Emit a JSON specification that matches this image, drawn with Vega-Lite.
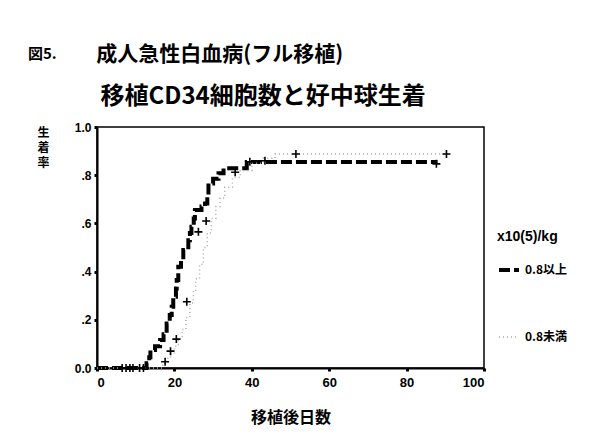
{
  "$schema": "https://vega.github.io/schema/vega-lite/v6.json",
  "width": 387,
  "height": 241,
  "autosize": {"type": "none"},
  "padding": {"left": 97, "top": 127, "right": 107, "bottom": 77},
  "background": "white",
  "title": {
    "text": "図5.",
    "subtitle": "\u200b\u3000\u3000\u3000\u2005成人急性白血病(フル移植)",
    "anchor": "start",
    "frame": "group",
    "dx": -69,
    "offset": 16,
    "font": "Noto Sans CJK JP",
    "fontSize": 15,
    "fontWeight": "bold",
    "color": "black",
    "subtitleFont": "Noto Sans CJK JP",
    "subtitleFontSize": 21,
    "subtitleFontWeight": "bold",
    "subtitleColor": "black",
    "subtitlePadding": -18
  },
  "resolve": {"axis": {"x": "independent"}},
  "datasets": {
    "curves": [
      {"group": "0.8以上", "day": 0, "rate": 0},
      {"group": "0.8以上", "day": 12.8, "rate": 0.02},
      {"group": "0.8以上", "day": 13.5, "rate": 0.045},
      {"group": "0.8以上", "day": 13.8, "rate": 0.075},
      {"group": "0.8以上", "day": 15, "rate": 0.09},
      {"group": "0.8以上", "day": 16.3, "rate": 0.116},
      {"group": "0.8以上", "day": 17.2, "rate": 0.14},
      {"group": "0.8以上", "day": 18, "rate": 0.185},
      {"group": "0.8以上", "day": 18.8, "rate": 0.22},
      {"group": "0.8以上", "day": 19.3, "rate": 0.254},
      {"group": "0.8以上", "day": 19.7, "rate": 0.296},
      {"group": "0.8以上", "day": 20.4, "rate": 0.33},
      {"group": "0.8以上", "day": 20.6, "rate": 0.365},
      {"group": "0.8以上", "day": 21, "rate": 0.42},
      {"group": "0.8以上", "day": 21.7, "rate": 0.45},
      {"group": "0.8以上", "day": 22.3, "rate": 0.49},
      {"group": "0.8以上", "day": 23.6, "rate": 0.53},
      {"group": "0.8以上", "day": 24, "rate": 0.56},
      {"group": "0.8以上", "day": 24.4, "rate": 0.586},
      {"group": "0.8以上", "day": 25, "rate": 0.62},
      {"group": "0.8以上", "day": 25.3, "rate": 0.656},
      {"group": "0.8以上", "day": 27, "rate": 0.67},
      {"group": "0.8以上", "day": 27.9, "rate": 0.683},
      {"group": "0.8以上", "day": 28.5, "rate": 0.72},
      {"group": "0.8以上", "day": 28.8, "rate": 0.766},
      {"group": "0.8以上", "day": 30, "rate": 0.785},
      {"group": "0.8以上", "day": 31.4, "rate": 0.808},
      {"group": "0.8以上", "day": 32.7, "rate": 0.829},
      {"group": "0.8以上", "day": 38.7, "rate": 0.855},
      {"group": "0.8以上", "day": 88, "rate": 0.855},
      {"group": "0.8未満", "day": 0, "rate": 0},
      {"group": "0.8未満", "day": 17, "rate": 0.02},
      {"group": "0.8未満", "day": 18, "rate": 0.04},
      {"group": "0.8未満", "day": 19, "rate": 0.06},
      {"group": "0.8未満", "day": 20, "rate": 0.09},
      {"group": "0.8未満", "day": 21, "rate": 0.12},
      {"group": "0.8未満", "day": 22, "rate": 0.16},
      {"group": "0.8未満", "day": 23, "rate": 0.21},
      {"group": "0.8未満", "day": 24, "rate": 0.27},
      {"group": "0.8未満", "day": 24.9, "rate": 0.32},
      {"group": "0.8未満", "day": 25.5, "rate": 0.37},
      {"group": "0.8未満", "day": 26.5, "rate": 0.43},
      {"group": "0.8未満", "day": 27.5, "rate": 0.5},
      {"group": "0.8未満", "day": 28.5, "rate": 0.56},
      {"group": "0.8未満", "day": 29.5, "rate": 0.62},
      {"group": "0.8未満", "day": 30.7, "rate": 0.67},
      {"group": "0.8未満", "day": 31.8, "rate": 0.705},
      {"group": "0.8未満", "day": 33, "rate": 0.75},
      {"group": "0.8未満", "day": 35, "rate": 0.79},
      {"group": "0.8未満", "day": 37, "rate": 0.82},
      {"group": "0.8未満", "day": 40, "rate": 0.85},
      {"group": "0.8未満", "day": 43, "rate": 0.87},
      {"group": "0.8未満", "day": 46, "rate": 0.888},
      {"group": "0.8未満", "day": 90, "rate": 0.888}
    ],
    "censored": [
      {"day": 6.5, "rate": 0},
      {"day": 7.5, "rate": 0},
      {"day": 8.5, "rate": 0},
      {"day": 9.3, "rate": 0},
      {"day": 11, "rate": 0},
      {"day": 12, "rate": 0},
      {"day": 17.6, "rate": 0.026},
      {"day": 19, "rate": 0.07},
      {"day": 20.5, "rate": 0.12},
      {"day": 23.2, "rate": 0.275},
      {"day": 26.2, "rate": 0.565},
      {"day": 28.2, "rate": 0.61},
      {"day": 35.7, "rate": 0.812},
      {"day": 39.5, "rate": 0.856},
      {"day": 43.4, "rate": 0.86},
      {"day": 51.4, "rate": 0.888},
      {"day": 87.7, "rate": 0.847},
      {"day": 90.3, "rate": 0.888}
    ]
  },
  "layer": [
    {
      "data": {"name": "curves"},
      "mark": {"type": "line", "interpolate": "step-after"},
      "encoding": {
        "x": {
          "field": "day", "type": "quantitative",
          "scale": {"domain": [0, 100], "nice": false},
          "axis": {
            "orient": "bottom",
            "values": [0, 20, 40, 60, 80, 100],
            "title": "移植後日数",
            "titleFont": "Noto Sans CJK JP",
            "titleFontSize": 16,
            "titleFontWeight": "bold",
            "titlePadding": 20
          }
        },
        "y": {
          "field": "rate", "type": "quantitative",
          "scale": {"domain": [0, 1], "nice": false},
          "axis": {
            "values": [0, 0.2, 0.4, 0.6, 0.8, 1],
            "labelExpr": "datum.value == 0 ? '0.0' : datum.value == 1 ? '1.0' : replace(format(datum.value, '.1f'), '0.', '.')",
            "title": ["生", "着", "率"],
            "titleAngle": 0,
            "titleX": -54,
            "titleY": 0,
            "titleAlign": "center",
            "titleBaseline": "top",
            "titleFont": "Noto Sans CJK JP",
            "titleFontSize": 12,
            "titleFontWeight": "bold",
            "titleLineHeight": 15
          }
        },
        "color": {
          "field": "group", "type": "nominal",
          "scale": {"domain": ["0.8以上", "0.8未満"], "range": ["black", "#a8a8a8"]},
          "legend": {"title": "x10(5)/kg"}
        },
        "strokeDash": {
          "field": "group", "type": "nominal",
          "scale": {"domain": ["0.8以上", "0.8未満"], "range": [[11, 4], [1, 3]]},
          "legend": {"title": "x10(5)/kg"}
        },
        "strokeWidth": {
          "field": "group", "type": "nominal",
          "scale": {"domain": ["0.8以上", "0.8未満"], "range": [4, 1.5]},
          "legend": {"title": "x10(5)/kg"}
        }
      }
    },
    {
      "data": {"name": "censored"},
      "mark": {"type": "point", "shape": "M-1,0H1M0,-1V1", "filled": false, "stroke": "black", "strokeWidth": 1.6, "size": 64, "opacity": 1},
      "encoding": {
        "x": {
          "field": "day", "type": "quantitative",
          "axis": {
            "orient": "top",
            "domain": false,
            "ticks": false,
            "labels": false,
            "title": "移植CD34細胞数と好中球生着",
            "titleFont": "Noto Sans CJK JP",
            "titleFontSize": 24,
            "titleFontWeight": "bold",
            "titleColor": "black",
            "titleAnchor": "start",
            "titleAlign": "left",
            "titleBaseline": "middle",
            "titleX": 3,
            "titleY": -31
          }
        },
        "y": {"field": "rate", "type": "quantitative"}
      }
    }
  ],
  "config": {
    "view": {"stroke": "black", "strokeWidth": 1.5},
    "axis": {
      "grid": false,
      "domainColor": "black",
      "domainWidth": 2,
      "tickColor": "black",
      "tickWidth": 3,
      "tickSize": 3,
      "labelFont": "Liberation Sans",
      "labelFontWeight": "bold",
      "labelColor": "black",
      "titleColor": "black"
    },
    "axisX": {"labelFontSize": 13, "labelPadding": 5},
    "axisY": {"labelFontSize": 12, "labelPadding": 3},
    "legend": {
      "orient": "none",
      "legendX": 400,
      "legendY": 103,
      "titleFont": "Liberation Sans",
      "titleFontSize": 14,
      "titleFontWeight": "bold",
      "titleColor": "black",
      "labelFont": "Noto Sans CJK JP",
      "labelFontSize": 12,
      "labelFontWeight": "bold",
      "labelColor": "black",
      "symbolType": "stroke",
      "symbolSize": 400,
      "rowPadding": 48,
      "titlePadding": 14
    }
  }
}
